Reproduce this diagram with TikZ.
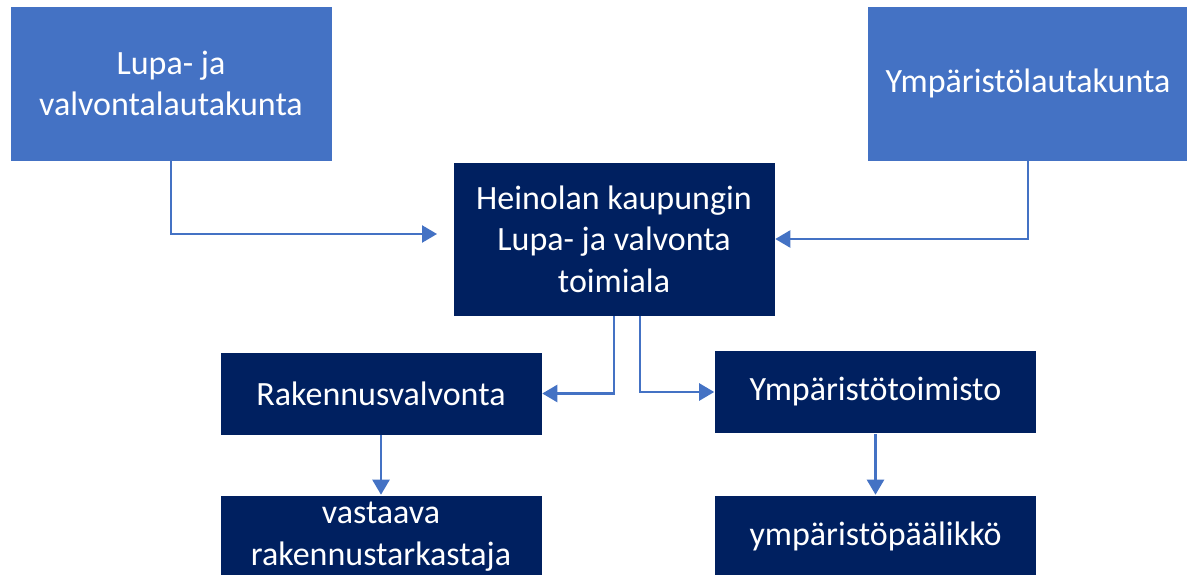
\documentclass[tikz,border=0pt]{standalone}
\usepackage{fontspec}
\setmainfont{Carlito}
\usetikzlibrary{arrows.meta,calc}
\definecolor{lightblue}{HTML}{4472C4}
\definecolor{navy}{HTML}{002060}
\tikzset{
  box/.style={rectangle, draw=white, line width=0.6pt, text=white, align=center,
    font=\fontsize{34}{41.5}\selectfont, inner sep=0pt},
  topbox/.style={box, fill=lightblue, minimum width=322pt, minimum height=155pt},
  midbox/.style={box, fill=navy, minimum width=322pt, minimum height=154pt},
  smallbox/.style={box, fill=navy, minimum width=322pt, minimum height=83pt},
  conn/.style={draw=lightblue, line width=2.4pt, -{Triangle[length=15pt,width=17pt]}}
}
\begin{document}
\begin{tikzpicture}[x=1pt,y=-1pt]
\useasboundingbox (0,0) rectangle (1187,575);
\clip (0,0) rectangle (1187,575);
\fill[white] (0,0) rectangle (1187,575);
\node[topbox] (A) at (171,83.5) {Lupa- ja\\valvontalautakunta};
\node[topbox] (B) at (1028,83.5) {Ympäristölautakunta};
\node[midbox] (C) at (614,239) {Heinolan kaupungin\\Lupa- ja valvonta\\toimiala};
\node[smallbox] (D) at (381,393.5) {Rakennusvalvonta};
\node[smallbox] (E) at (875.5,392) {Ympäristötoimisto};
\node[smallbox] (F) at (381,536.5) {vastaava\\rakennustarkastaja};
\node[smallbox] (G) at (875.5,536.5) {ympäristöpäälikkö};
\coordinate (aEnd) at (437,234);
\draw[conn] (A.south) |- (aEnd);
\draw[conn] (B.south) |- (C.east);
\draw[conn] (C.south) |- (D.east);
\draw[conn] ([xshift=26pt]C.south) |- (E.west);
\draw[conn] (D.south) -- (F.north);
\draw[conn] (E.south) -- (G.north);
\end{tikzpicture}
\end{document}
